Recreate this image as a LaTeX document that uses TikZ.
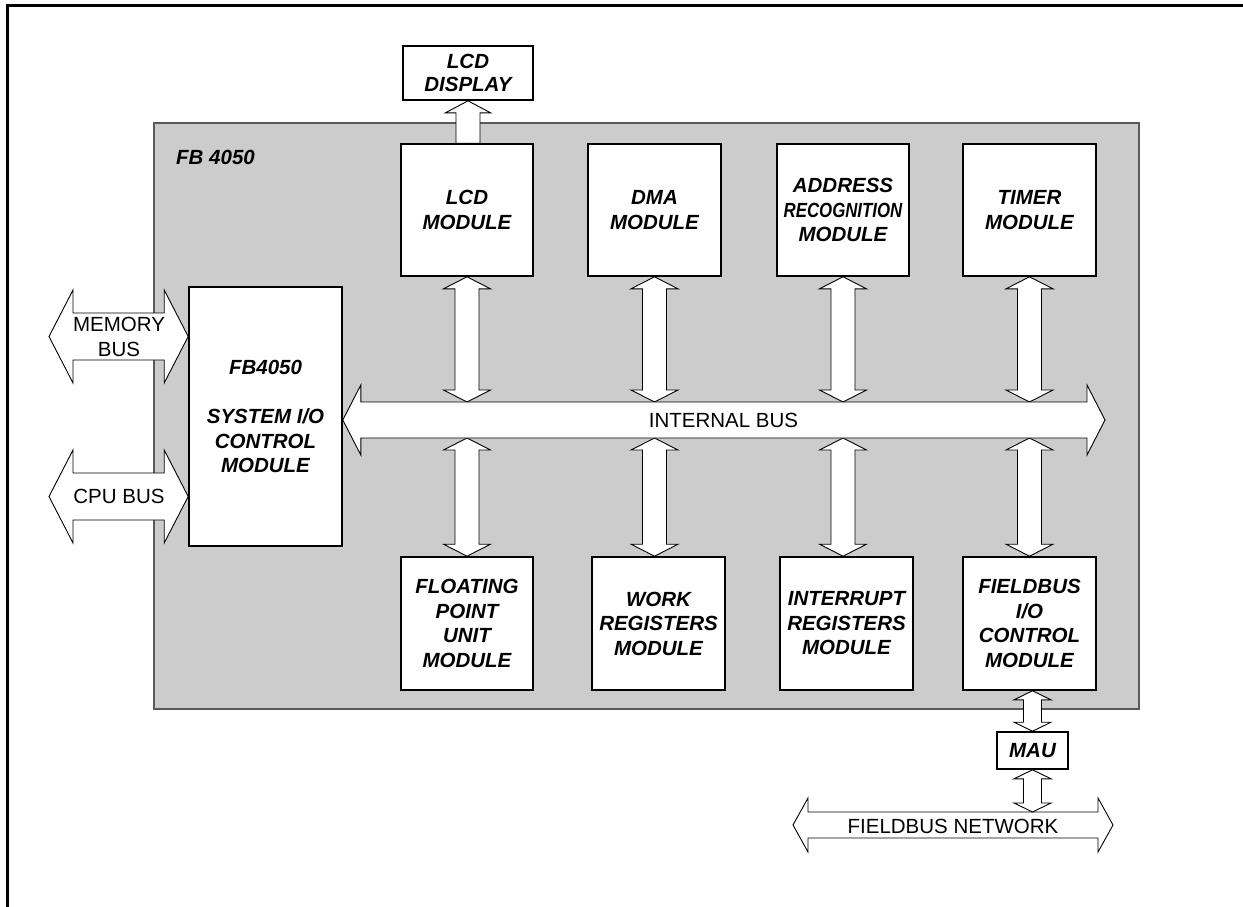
\documentclass[tikz,border=0pt]{standalone}
\usepackage{fontspec}
\setmainfont{Liberation Sans}
\usetikzlibrary{calc}
\definecolor{panel}{RGB}{204,204,204}
\definecolor{panelline}{RGB}{90,90,90}
\tikzset{
  modbox/.style={draw=black, line width=1.6pt, fill=white, align=center, inner sep=0pt,
    font=\bfseries\itshape\fontsize{20.5}{24.5}\selectfont},
  lbl/.style={align=center, inner sep=0pt, font=\fontsize{20.5}{25}\selectfont},
  fat/.style={draw=black, line width=0.9pt, fill=white, line join=miter},
  panelbox/.style={draw=panelline, line width=1.3pt, fill=panel, inner sep=0pt},
  frame/.style={draw=black, line width=3pt}
}
\newcommand\vdarrow[5]{%
  \draw[fat] let \p1=(#1), \p2=(#2) in
    (\x1,\y1) -- (\x1+#4,\y1-#5) -- (\x1+#3,\y1-#5) -- (\x1+#3,\y2+#5) -- (\x1+#4,\y2+#5)
    -- (\x1,\y2) -- (\x1-#4,\y2+#5) -- (\x1-#3,\y2+#5) -- (\x1-#3,\y1-#5) -- (\x1-#4,\y1-#5) -- cycle;}
\newcommand\hdarrow[5]{%
  \draw[fat] let \p1=(#1), \p2=(#2) in
    (\x1,\y1) -- (\x1+#5,\y1+#4) -- (\x1+#5,\y1+#3) -- (\x2-#5,\y1+#3) -- (\x2-#5,\y1+#4)
    -- (\x2,\y1) -- (\x2-#5,\y1-#4) -- (\x2-#5,\y1-#3) -- (\x1+#5,\y1-#3) -- (\x1+#5,\y1-#4) -- cycle;}
\newcommand\uparrowfat[5]{%
  \draw[fat] let \p1=(#1), \p2=(#2) in
    (\x1,\y1) -- (\x1+#4,\y1-#5) -- (\x1+#3,\y1-#5) -- (\x1+#3,\y2)
    -- (\x1-#3,\y2) -- (\x1-#3,\y1-#5) -- (\x1-#4,\y1-#5) -- cycle;}
\begin{document}
\begin{tikzpicture}[x=1pt,y=-1pt]
\useasboundingbox (0,0) rectangle (1243,907);
% outer frame (top and left only visible)
\draw[frame] (7,907) -- (7,6) -- (1243,6);
% panel
\node[panelbox, minimum width=985pt, minimum height=586pt] (fb) at (646.5,416) {};
\node[anchor=west, inner sep=0pt, font=\bfseries\itshape\fontsize{20.5}{24.5}\selectfont] (fbname) at (176,157) {FB 4050};
% named positions
\coordinate (busc) at (723.5,420);
\coordinate (busR) at (1105,420);
\coordinate (busT) at (723.5,402);
\coordinate (busB) at (723.5,438);
\coordinate (memL) at (49,336.5);
\coordinate (cpuL) at (49,496.5);
\coordinate (netL) at (793,825);
\coordinate (netR) at (1113,825);
\coordinate (netT) at (953,812);
% boxes (positions)
\path
  node[modbox, minimum width=130pt, minimum height=54pt] (lcdd) at (468,73) {LCD\\[-1.5pt]DISPLAY}
  node[modbox, minimum width=153pt, minimum height=259pt] (sysio) at (265.5,416.5) {FB4050\\[24.5pt]SYSTEM I/O\\CONTROL\\MODULE}
  node[modbox, minimum width=132pt, minimum height=132pt] (lcdm) at (467,210) {LCD\\MODULE}
  node[modbox, minimum width=133pt, minimum height=132pt] (dma) at (654.5,210) {DMA\\MODULE}
  node[modbox, minimum width=132pt, minimum height=132pt] (addr) at (843,210) {ADDRESS\\\scalebox{0.82}[1]{RECOGNITION}\\MODULE}
  node[modbox, minimum width=133pt, minimum height=132pt] (timer) at (1029.5,210) {TIMER\\MODULE}
  node[modbox, minimum width=132pt, minimum height=133pt] (fpu) at (467,623.5) {FLOATING\\POINT\\UNIT\\MODULE}
  node[modbox, minimum width=133pt, minimum height=133pt] (work) at (658.5,623.5) {WORK\\REGISTERS\\MODULE}
  node[modbox, minimum width=133pt, minimum height=133pt] (intr) at (846.5,623.5) {INTERRUPT\\REGISTERS\\MODULE}
  node[modbox, minimum width=133pt, minimum height=133pt] (field) at (1029.5,623.5) {FIELDBUS\\I/O\\CONTROL\\MODULE}
  node[modbox, minimum width=71pt, minimum height=37pt] (mau) at (1032.5,750.5) {MAU};
% arrows
\uparrowfat{lcdd.south}{lcdm.north}{12pt}{22.5pt}{12pt}
\foreach \m in {lcdm,dma,addr,timer}{
  \vdarrow{\m.south}{\m.south |- busT}{12pt}{23.5pt}{12pt}
  \vdarrow{\m.south |- busB}{\m.south |- fpu.north}{12pt}{23.5pt}{12pt}
}
\hdarrow{sysio.east |- busc}{busR}{18pt}{35pt}{18pt}
\hdarrow{memL}{sysio.west |- memL}{23.5pt}{46.5pt}{24pt}
\hdarrow{cpuL}{sysio.west |- cpuL}{23.5pt}{46.5pt}{24pt}
\vdarrow{mau.north |- field.south}{mau.north}{9pt}{18.5pt}{9pt}
\hdarrow{netL}{netR}{13pt}{27pt}{15pt}
\vdarrow{mau.south}{mau.south |- netT}{9pt}{18.5pt}{9pt}
% redraw boxes on top
\path
  node[modbox, minimum width=130pt, minimum height=54pt] at (lcdd) {LCD\\[-1.5pt]DISPLAY}
  node[modbox, minimum width=153pt, minimum height=259pt] at (sysio) {FB4050\\[24.5pt]SYSTEM I/O\\CONTROL\\MODULE}
  node[modbox, minimum width=132pt, minimum height=132pt] at (lcdm) {LCD\\MODULE}
  node[modbox, minimum width=133pt, minimum height=132pt] at (dma) {DMA\\MODULE}
  node[modbox, minimum width=132pt, minimum height=132pt] at (addr) {ADDRESS\\\scalebox{0.82}[1]{RECOGNITION}\\MODULE}
  node[modbox, minimum width=133pt, minimum height=132pt] at (timer) {TIMER\\MODULE}
  node[modbox, minimum width=132pt, minimum height=133pt] at (fpu) {FLOATING\\POINT\\UNIT\\MODULE}
  node[modbox, minimum width=133pt, minimum height=133pt] at (work) {WORK\\REGISTERS\\MODULE}
  node[modbox, minimum width=133pt, minimum height=133pt] at (intr) {INTERRUPT\\REGISTERS\\MODULE}
  node[modbox, minimum width=133pt, minimum height=133pt] at (field) {FIELDBUS\\I/O\\CONTROL\\MODULE}
  node[modbox, minimum width=71pt, minimum height=37pt] at (mau) {MAU};
% bus labels
\node[lbl] (bustext) at (busc) {INTERNAL BUS};
\node[lbl] (memtext) at (119,336.5) {MEMORY\\BUS};
\node[lbl] (cputext) at (119,496.5) {CPU BUS};
\node[lbl] (nettext) at (953,826) {FIELDBUS NETWORK};
\end{tikzpicture}
\end{document}
